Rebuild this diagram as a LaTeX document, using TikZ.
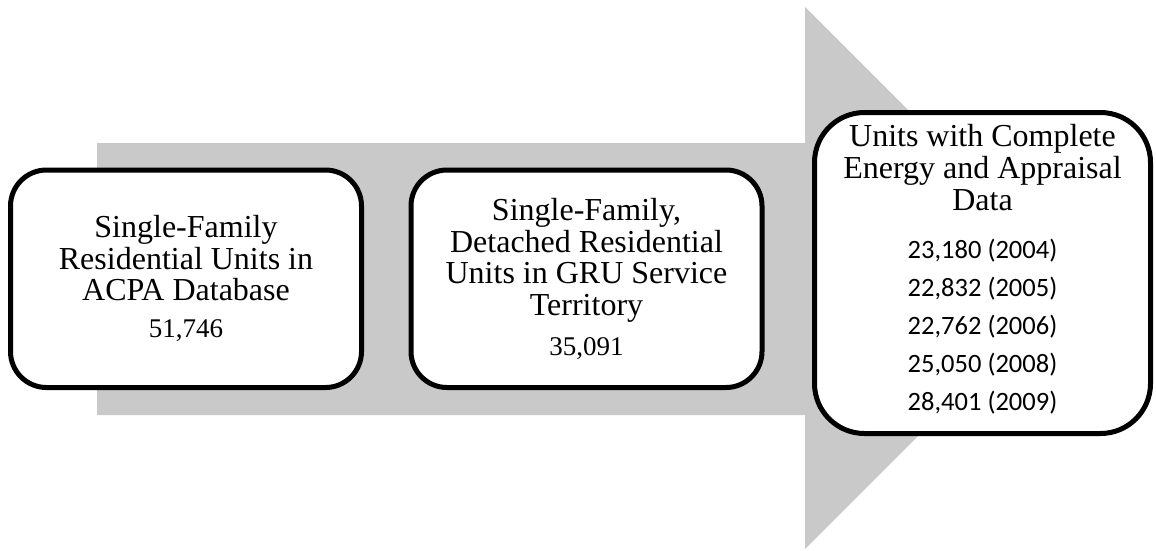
\documentclass[tikz,border=0pt]{standalone}
\usepackage{fontspec}
\setmainfont{Liberation Serif}
\newfontfamily\numfont{Carlito}
\definecolor{shaftgray}{RGB}{201,201,201}
\begin{document}
\begin{tikzpicture}[x=1pt,y=-1pt,
  stage/.style={draw=black, line width=5pt, fill=white, align=center,
    inner sep=0pt, font=\fontsize{32}{31.5}\selectfont},
  small/.style={rounded corners=36pt, minimum width=351pt, minimum height=217.5pt},
  big/.style={rounded corners=50pt, minimum width=336pt, minimum height=321pt,
    font=\fontsize{32}{32}\selectfont}]
\useasboundingbox (0,0) rectangle (1156,550);
% broad process arrow in the background
\fill[shaftgray] (97,143) -- (805,143) -- (805,7) -- (1076,278)
  -- (805,549) -- (805,415) -- (97,415) -- cycle;
% the three stages
\node[stage, small] (acpa) at (186,278.75)
  {Single-Family\\Residential Units in\\ACPA Database\\[5.5pt]
   {\fontsize{27}{31.5}\selectfont 51,746}};
\node[stage, small] (gru) at (586.5,278.75)
  {Single-Family,\\Detached Residential\\Units in GRU Service\\Territory\\[8.5pt]
   {\fontsize{27}{31.5}\selectfont 35,091}};
\node[stage, big] (complete) at (982.5,273)
  {Units with Complete\\Energy and Appraisal\\Data\\[16pt]
   {\numfont\fontsize{26.5}{32}\selectfont 23,180 (2004)}\\[6pt]
   {\numfont\fontsize{26.5}{32}\selectfont 22,832 (2005)}\\[6pt]
   {\numfont\fontsize{26.5}{32}\selectfont 22,762 (2006)}\\[6pt]
   {\numfont\fontsize{26.5}{32}\selectfont 25,050 (2008)}\\[6pt]
   {\numfont\fontsize{26.5}{32}\selectfont 28,401 (2009)\rule[-11pt]{0pt}{11pt}}};
\end{tikzpicture}
\end{document}
